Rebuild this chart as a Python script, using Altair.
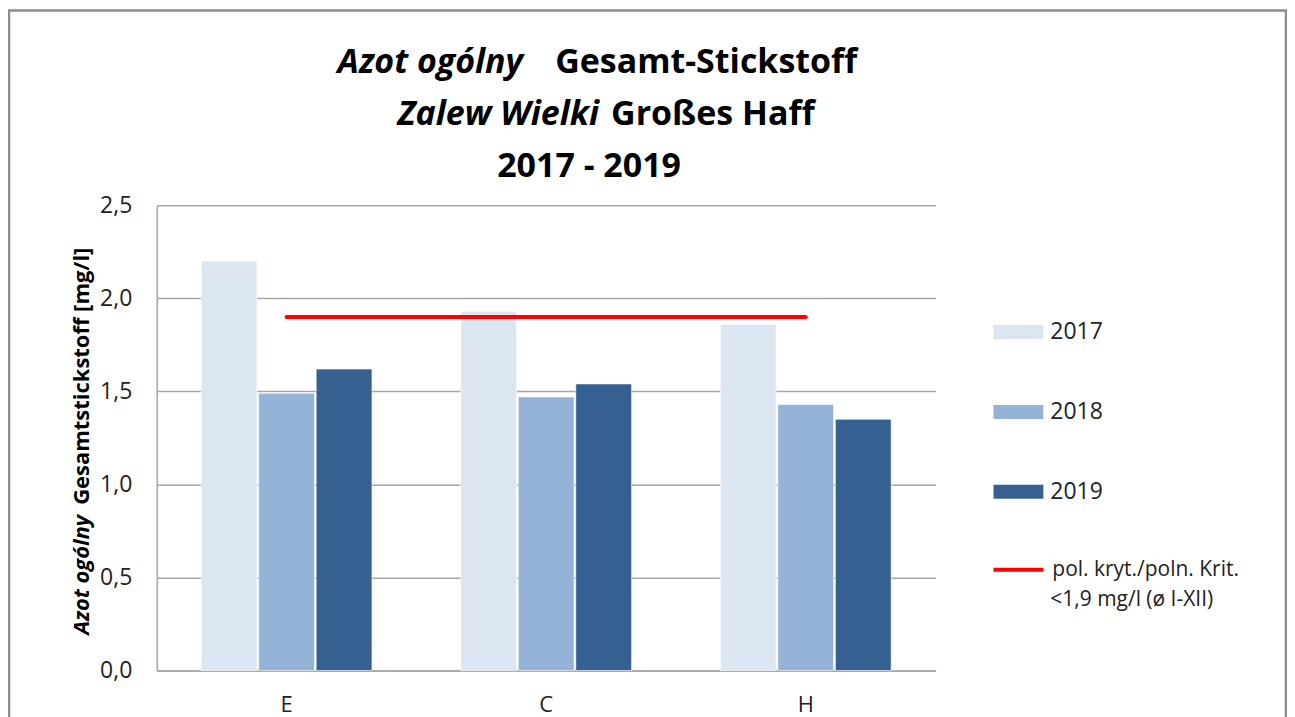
import altair as alt
import pandas as pd

sites = ["E", "C", "H"]
years = ["2017", "2018", "2019"]
values_2017 = [2.20, 1.93, 1.86]
values_2018 = [1.49, 1.47, 1.43]
values_2019 = [1.62, 1.54, 1.35]
colors = ["#dce6f2", "#95b3d7", "#376092"]
crit_value = 1.9
crit_label = "pol. kryt./poln. Krit."
crit_label_2 = "<1,9 mg/l (ø I-XII)"
y_ticks = [0, 0.5, 1.0, 1.5, 2.0, 2.5]

FONT = "Open Sans"

rows = []
for yr, vals in zip(years, [values_2017, values_2018, values_2019]):
    for s, v in zip(sites, vals):
        rows.append({"site": s, "year": yr, "value": v})
bars_df = pd.DataFrame(rows)
crit_df = pd.DataFrame({"site": sites, "value": [crit_value] * 3, "crit": [crit_label] * 3})
one = pd.DataFrame({"a": [0]})

x_enc = alt.X("site:N", sort=sites,
              scale=alt.Scale(paddingInner=0.342, paddingOuter=0.171),
              axis=alt.Axis(title=None, labelAngle=0, ticks=False, labelPadding=24,
                            labelFontSize=22, labelFont=FONT, labelColor="#222222",
                            domainColor="#a6a6a6", domainWidth=1.5, grid=False))
y_enc = alt.Y("value:Q", scale=alt.Scale(domain=[0, 2.5], nice=False),
              axis=alt.Axis(title=None, values=y_ticks, ticks=False, labelPadding=25,
                            labelExpr="replace(format(datum.value, '.1f'), '.', ',')",
                            labelFontSize=23, labelFont=FONT, labelColor="#222222",
                            grid=True, gridColor="#a6a6a6", gridWidth=1.5,
                            domainColor="#a6a6a6", domainWidth=1.5))

bars = alt.Chart(bars_df).mark_bar(stroke="white", strokeWidth=0.6).encode(
    x=x_enc,
    y=y_enc,
    xOffset=alt.XOffset("year:N", sort=years, scale=alt.Scale(paddingInner=0.03, paddingOuter=0)),
    fill=alt.Fill("year:N", sort=years, scale=alt.Scale(domain=years, range=colors),
                  legend=alt.Legend(orient="none", legendX=838, legendY=102, title=None,
                                    symbolType="M-1,-0.28H1V0.28H-1Z", symbolSize=2500,
                                    symbolStrokeWidth=0, rowPadding=43, labelFontSize=23,
                                    labelFont=FONT, labelColor="#222222", labelOffset=7,
                                    padding=0)),
)

crit = alt.Chart(crit_df).mark_line(strokeWidth=4, strokeCap="round").encode(
    x=alt.X("site:N", sort=sites),
    y=alt.Y("value:Q"),
    stroke=alt.Stroke("crit:N", scale=alt.Scale(range=["#ff0000"]),
                      legend=alt.Legend(orient="none", legendX=836, legendY=338, title=None,
                                        symbolType="stroke", symbolSize=2500,
                                        symbolStrokeWidth=4, labelFontSize=21,
                                        labelFont=FONT, labelColor="#222222", labelOffset=7,
                                        labelLimit=400, padding=0)),
)

frame = alt.Chart(one).mark_rect(fill=None, stroke="#8c8c8c", strokeWidth=2.5).encode(
    x=alt.value(-148), x2=alt.value(1131), y=alt.value(-195), y2=alt.value(700)
)

def txt(text, x, y, align="center", italic=False, size=34, angle=None,
        baseline="alphabetic", weight="bold", color="#000000"):
    kw = dict(text=text, align=align, baseline=baseline, font=FONT, fontSize=size,
              fontWeight=weight, fontStyle="italic" if italic else "normal", color=color)
    if angle is not None:
        kw["angle"] = angle
    return alt.Chart(one).mark_text(**kw).encode(x=alt.value(x), y=alt.value(y))

title_layers = [
    txt("Azot ogólny", 367, -132, align="right", italic=True),
    txt("Gesamt-Stickstoff", 399, -132, align="left"),
    txt("Zalew Wielki", 443, -80, align="right", italic=True),
    txt("Großes Haff", 455, -80, align="left"),
    txt("2017 - 2019", 433, -28),
    txt("Azot ogólny", -75, 310, align="right", italic=True, size=22, angle=270, baseline="middle"),
    txt("Gesamtstickstoff [mg/l]", -75, 300, align="left", size=22, angle=270, baseline="middle"),
    txt(crit_label_2, 895, 395, align="left", size=21, baseline="middle",
        weight="normal", color="#222222"),
]

chart = alt.layer(frame, bars, crit, *title_layers).properties(
    width=780, height=466,
    autosize=alt.AutoSizeParams(type="none"),
    padding={"left": 149, "top": 197, "right": 352, "bottom": 46},
).resolve_scale(fill="independent", stroke="independent").configure_view(stroke=None)

chart.save("out.html", embed_options={"renderer": "svg", "actions": False})
